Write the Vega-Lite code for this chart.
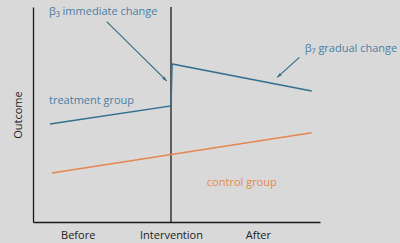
{
  "$schema": "https://vega.github.io/schema/vega-lite/v6.json",
  "width": 287,
  "height": 215,
  "autosize": {"type": "none"},
  "padding": {"left": 33, "top": 7, "right": 80, "bottom": 21},
  "background": "#d9d9d9",
  "config": {
    "view": {"stroke": null},
    "font": "Open Sans",
    "axis": {"grid": false, "ticks": false, "domainColor": "#1a1a1a", "domainWidth": 1.3}
  },
  "datasets": {
    "lines": [
      {"t": 1.23, "outcome": 45.6, "group": "treatment", "ord": 1},
      {"t": 10.0, "outcome": 54.0, "group": "treatment", "ord": 2},
      {"t": 10.08, "outcome": 73.5, "group": "treatment", "ord": 3},
      {"t": 20.2, "outcome": 60.9, "group": "treatment", "ord": 4},
      {"t": 1.38, "outcome": 22.8, "group": "control", "ord": 1},
      {"t": 20.2, "outcome": 41.5, "group": "control", "ord": 2}
    ],
    "labels": [
      {"t": 1.16, "outcome": 56.3, "label": "treatment group", "group": "treatment"},
      {"t": 12.6, "outcome": 18.0, "label": "control group", "group": "control"},
      {"t": 1.16, "outcome": 97.6, "label": "β₃ immediate change", "group": "treatment"},
      {"t": 19.7, "outcome": 80.3, "label": "β₇ gradual change", "group": "treatment"}
    ],
    "arrows": [
      {"name": "b3", "t": 5.34, "outcome": 93.2, "t2": 9.69, "outcome2": 65.6},
      {"name": "b7", "t": 19.3, "outcome": 76.6, "t2": 17.7, "outcome2": 67.3}
    ],
    "events": [{"t": 10, "event": "Intervention"}]
  },
  "layer": [
    {
      "data": {"name": "events"},
      "mark": {"type": "rule", "color": "#1a1a1a", "strokeWidth": 1.3},
      "encoding": {
        "x": {
          "field": "t", "type": "quantitative",
          "scale": {"domain": [0, 20.8], "nice": false, "zero": false},
          "axis": {
            "title": null,
            "values": [3.24, 10, 16.3],
            "labelExpr": "datum.value < 5 ? 'Before' : (datum.value < 12 ? 'Intervention' : 'After')",
            "labelFontSize": 11,
            "labelColor": "#222222",
            "labelPadding": 7,
            "labelFontWeight": 500
          }
        }
      }
    },
    {
      "data": {"name": "lines"},
      "mark": {"type": "line", "strokeWidth": 1.5},
      "encoding": {
        "x": {"field": "t", "type": "quantitative"},
        "y": {
          "field": "outcome", "type": "quantitative",
          "scale": {"domain": [0, 100], "nice": false, "zero": false},
          "axis": {
            "title": "Outcome",
            "labels": false,
            "titleFontSize": 11,
            "titleFontWeight": "normal",
            "titleColor": "#222222",
            "titlePadding": 10
          }
        },
        "color": {
          "field": "group", "type": "nominal",
          "scale": {"domain": ["treatment", "control"], "range": ["#34708e", "#e4864f"]},
          "legend": null
        },
        "order": {"field": "ord"}
      }
    },
    {
      "data": {"name": "arrows"},
      "mark": {"type": "rule", "color": "#2f6a84", "strokeWidth": 1.1},
      "encoding": {
        "x": {"field": "t", "type": "quantitative"},
        "y": {"field": "outcome", "type": "quantitative"},
        "x2": {"field": "t2"},
        "y2": {"field": "outcome2"}
      }
    },
    {
      "data": {"name": "arrows"},
      "transform": [{"filter": "datum.name == 'b3'"}],
      "mark": {"type": "point", "filled": true, "color": "#2f6a84", "opacity": 1, "size": 16, "angle": 134.7, "shape": "M0,0L0.75,2.4L-0.75,2.4Z"},
      "encoding": {
        "x": {"field": "t2", "type": "quantitative"},
        "y": {"field": "outcome2", "type": "quantitative"}
      }
    },
    {
      "data": {"name": "arrows"},
      "transform": [{"filter": "datum.name == 'b7'"}],
      "mark": {"type": "point", "filled": true, "color": "#2f6a84", "opacity": 1, "size": 16, "angle": 227.7, "shape": "M0,0L0.75,2.4L-0.75,2.4Z"},
      "encoding": {
        "x": {"field": "t2", "type": "quantitative"},
        "y": {"field": "outcome2", "type": "quantitative"}
      }
    },
    {
      "data": {"name": "labels"},
      "mark": {"type": "text", "align": "left", "baseline": "middle", "fontSize": 11},
      "encoding": {
        "x": {"field": "t", "type": "quantitative"},
        "y": {"field": "outcome", "type": "quantitative"},
        "text": {"field": "label"},
        "color": {
          "field": "group", "type": "nominal",
          "scale": {"domain": ["treatment", "control"], "range": ["#4a7fa5", "#e8874e"]},
          "legend": null
        }
      }
    }
  ],
  "resolve": {"scale": {"color": "independent"}}
}
